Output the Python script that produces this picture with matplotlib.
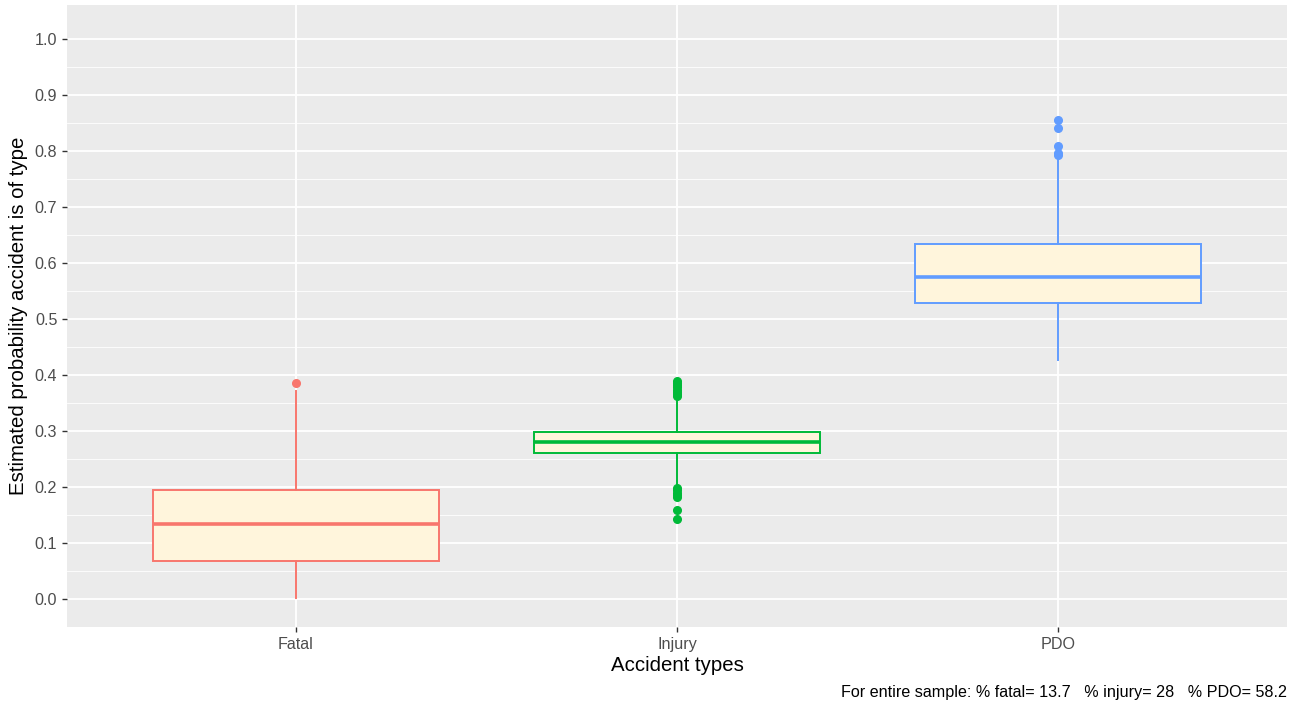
import matplotlib.pyplot as plt
import numpy as np

plt.rcParams['font.family'] = ['Liberation Sans', 'DejaVu Sans']

# Accident types and box statistics
categories = ['Fatal', 'Injury', 'PDO']
colors = ['#F8766D', '#00BA38', '#619CFF']
whislo = [0.002, 0.200, 0.427]
q1 = [0.068, 0.261, 0.529]
med = [0.134, 0.281, 0.575]
q3 = [0.195, 0.298, 0.634]
whishi = [0.371, 0.356, 0.788]
outliers = [
    [0.386],
    [0.362, 0.366, 0.370, 0.374, 0.378, 0.382, 0.386, 0.390,
     0.198, 0.194, 0.190, 0.186, 0.182, 0.159, 0.143],
    [0.855, 0.841, 0.809, 0.797, 0.793],
]
caption = 'For entire sample: % fatal= 13.7   % injury= 28   % PDO= 58.2'

fig = plt.figure(figsize=(12.99, 7.07), dpi=100)
ax = fig.add_axes([67/1299, 1 - 627/707, (1287 - 67)/1299, (627 - 5)/707])
ax.set_facecolor('#EBEBEB')

stats = []
for i in range(len(categories)):
    stats.append(dict(med=med[i], q1=q1[i], q3=q3[i], whislo=whislo[i],
                      whishi=whishi[i], fliers=outliers[i], label=categories[i]))

positions = np.arange(1, len(categories) + 1)
for i, s in enumerate(stats):
    c = colors[i]
    ax.bxp([s], positions=[positions[i]], widths=0.75, patch_artist=True,
           showcaps=False,
           boxprops=dict(facecolor='#FFF5DC', edgecolor=c, linewidth=1.4),
           medianprops=dict(color=c, linewidth=2.6),
           whiskerprops=dict(color=c, linewidth=1.4),
           flierprops=dict(marker='o', markerfacecolor=c, markeredgecolor=c,
                           markersize=5.5),
           zorder=3)

ax.set_xlim(0.4, 3.6)
ax.set_ylim(-0.05, 1.061)
ax.set_xticks(positions)
ax.set_xticklabels(categories)
ax.set_yticks(np.arange(0, 1.01, 0.1))
ax.set_yticklabels(['%.1f' % v for v in np.arange(0, 1.01, 0.1)])
ax.set_yticks(np.arange(0.05, 1.0, 0.1), minor=True)
ax.grid(which='major', color='white', linewidth=1.3, zorder=0)
ax.grid(which='minor', axis='y', color='white', linewidth=0.6, zorder=0)
ax.set_axisbelow(True)
for sp in ax.spines.values():
    sp.set_visible(False)
ax.tick_params(axis='both', which='major', length=3.5, width=1, color='#333333',
               labelcolor='#4D4D4D', labelsize=11.6)
ax.tick_params(axis='both', which='minor', length=0)

ax.set_xlabel('Accident types', fontsize=14.7, labelpad=3)
ax.set_ylabel('Estimated probability accident is of type', fontsize=14.7, labelpad=5)
fig.text(1287/1299, 1 - 693/707, caption, ha='right', va='center', fontsize=11.6)

fig.savefig('out.png', dpi=100)
